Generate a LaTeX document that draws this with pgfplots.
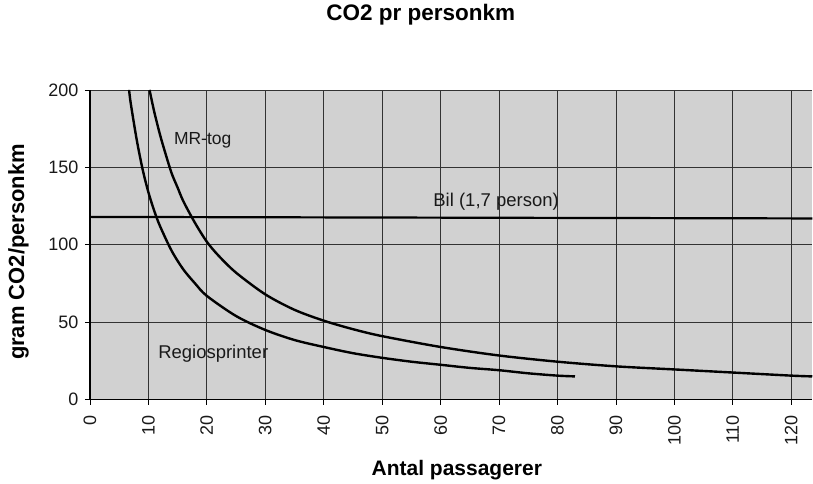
\documentclass[border=0pt]{standalone}
\usepackage{pgfplots}
\pgfplotsset{compat=1.18}
\usepackage{fontspec}
\setmainfont{Liberation Sans}
\begin{document}
\begin{tikzpicture}
\begin{axis}[
  at={(0,0)}, anchor=south west,
  scale only axis, width=723pt, height=310pt,
  xmin=0, xmax=123.6, ymin=0, ymax=200,
  xtick={0,10,...,120}, ytick={0,50,...,200},
  grid=major, major grid style={black!80, line width=0.7pt},
  axis background/.style={fill=black!18},
  axis x line*=bottom, axis y line*=left,
  axis line style={line width=1.5pt, -},
  tick align=outside, major tick length=5pt,
  tick style={black, line width=0.7pt},
  /pgf/number format/assume math mode=true,
  ticklabel style={font=\fontsize{18}{18}\selectfont, text=black!90},
  xticklabel style={rotate=90, anchor=east},
  xticklabel shift=7pt, yticklabel shift=3pt,
  title={\bfseries CO2 pr personkm},
  title style={at={(axis description cs:0.458,1.223)}, anchor=center, font=\fontsize{22.5}{22.5}\selectfont},
  xlabel={\bfseries Antal passagerer},
  xlabel style={at={(axis description cs:0.508,-0.226)}, anchor=center, font=\fontsize{21}{21}\selectfont},
  ylabel={\bfseries gram CO2/personkm},
  ylabel style={at={(axis description cs:-0.099,0.477)}, anchor=center, font=\fontsize{22}{22}\selectfont},
  clip=true,
]
\addplot[black, line width=2.2pt] coordinates {(0,118) (123.6,117)};
\addplot[black, line width=2.4pt, smooth] coordinates {
 (10.2,200) (11,186) (12,171) (13,158) (14,146) (15,137) (16,128) (18,114)
 (20,102) (22,93) (25,82) (30,68) (35,58) (40,51) (45,45.5) (50,41)
 (60,34) (70,28.5) (80,24.5) (90,21.5) (100,19.5) (110,17.5) (120,15.5) (123.6,15)};
\addplot[black, line width=2.4pt, smooth] coordinates {
 (6.7,200) (7,191) (8,168) (9,149) (10,134) (11,122) (12,112) (14,96)
 (16,84) (18,75) (20,67) (25,54) (30,45) (35,38.5) (40,34) (45,30)
 (50,27) (55,24.5) (60,22.5) (65,20.5) (70,19) (75,17) (80,15.5) (83,15)};
\node[font=\fontsize{17.5}{17.5}\selectfont, text=black!90] at (axis cs:19.3,167.7) {MR-tog};
\node[font=\fontsize{18.5}{18.5}\selectfont, text=black!90] at (axis cs:69.5,127.7) {Bil (1,7 person)};
\node[font=\fontsize{18.5}{18.5}\selectfont, text=black!90] at (axis cs:21.1,29.7) {Regiosprinter};
\end{axis}
\useasboundingbox (-90pt,-84pt) rectangle (723pt,400pt);
\end{tikzpicture}
\end{document}
